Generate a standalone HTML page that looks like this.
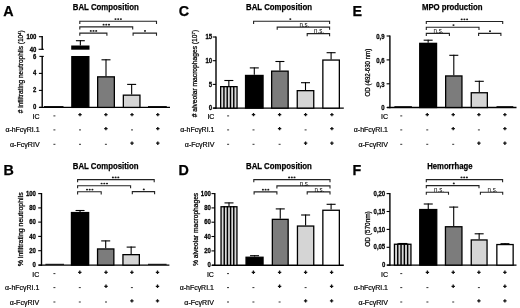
<!DOCTYPE html>
<html><head><meta charset="utf-8"><style>
html,body{margin:0;padding:0;background:#fff;}
svg{display:block;filter:grayscale(1);}
text{font-family:"Liberation Sans", sans-serif;fill:#000;}
.b{stroke:#000;stroke-width:0.25px;}
.r{stroke:#000;stroke-width:0.2px;}
.yt{stroke:#000;stroke-width:0.25px;}
</style></head><body>
<svg width="520" height="308" viewBox="0 0 520 308">
<rect width="520" height="308" fill="#fff"/>
<text x="178.80" y="16.30" font-size="14.3" font-weight="bold" text-anchor="start"  class="b">C</text>
<text x="246.00" y="10.10" font-size="8.6" font-weight="bold" text-anchor="start" textLength="66" lengthAdjust="spacingAndGlyphs"  class="b">BAL Composition</text>
<line x1="216.00" y1="36.40" x2="216.00" y2="108.80" stroke="#000" stroke-width="1.4"/>
<line x1="212.70" y1="37.00" x2="216.00" y2="37.00" stroke="#000" stroke-width="1.1"/>
<text transform="translate(212.10,39.10) scale(0.92,1)" font-size="6.5" font-weight="bold" text-anchor="end" class="b">15</text>
<line x1="212.70" y1="60.70" x2="216.00" y2="60.70" stroke="#000" stroke-width="1.1"/>
<text transform="translate(212.10,62.80) scale(0.92,1)" font-size="6.5" font-weight="bold" text-anchor="end" class="b">10</text>
<line x1="212.70" y1="84.40" x2="216.00" y2="84.40" stroke="#000" stroke-width="1.1"/>
<text transform="translate(212.10,86.50) scale(0.92,1)" font-size="6.5" font-weight="bold" text-anchor="end" class="b">5</text>
<line x1="212.70" y1="108.10" x2="216.00" y2="108.10" stroke="#000" stroke-width="1.1"/>
<text transform="translate(212.10,110.20) scale(0.92,1)" font-size="6.5" font-weight="bold" text-anchor="end" class="b">0</text>
<line x1="213.20" y1="108.10" x2="343.80" y2="108.10" stroke="#000" stroke-width="1.4"/>
<text transform="translate(197.20,73.60) rotate(-90)" font-size="6.6" class="yt" text-anchor="middle" textLength="87.5" lengthAdjust="spacingAndGlyphs"># alveolar macrophages (10<tspan font-size="4.2" dy="-2.2">7</tspan><tspan dy="2.2">)</tspan></text>
<rect x="220.65" y="86.65" width="16.40" height="21.45" fill="#d8d8d8" stroke="#000" stroke-width="1.3"/>
<line x1="223.93" y1="86.00" x2="223.93" y2="108.10" stroke="#000" stroke-width="1.45"/>
<line x1="227.21" y1="86.00" x2="227.21" y2="108.10" stroke="#000" stroke-width="1.45"/>
<line x1="230.49" y1="86.00" x2="230.49" y2="108.10" stroke="#000" stroke-width="1.45"/>
<line x1="233.77" y1="86.00" x2="233.77" y2="108.10" stroke="#000" stroke-width="1.45"/>
<line x1="228.85" y1="80.00" x2="228.85" y2="86.00" stroke="#000" stroke-width="1.1"/>
<line x1="224.35" y1="80.50" x2="233.35" y2="80.50" stroke="#000" stroke-width="1.1"/>
<rect x="245.55" y="75.45" width="17.50" height="32.65" fill="#000" stroke="#000" stroke-width="1.3"/>
<line x1="254.30" y1="67.40" x2="254.30" y2="74.80" stroke="#000" stroke-width="1.1"/>
<line x1="249.80" y1="67.90" x2="258.80" y2="67.90" stroke="#000" stroke-width="1.1"/>
<rect x="271.65" y="71.15" width="16.50" height="36.95" fill="#7c7c7c" stroke="#000" stroke-width="1.3"/>
<line x1="279.90" y1="61.00" x2="279.90" y2="70.50" stroke="#000" stroke-width="1.1"/>
<line x1="275.40" y1="61.50" x2="284.40" y2="61.50" stroke="#000" stroke-width="1.1"/>
<rect x="297.25" y="90.65" width="16.50" height="17.45" fill="#d5d5d5" stroke="#000" stroke-width="1.3"/>
<line x1="305.50" y1="82.20" x2="305.50" y2="90.00" stroke="#000" stroke-width="1.1"/>
<line x1="301.00" y1="82.70" x2="310.00" y2="82.70" stroke="#000" stroke-width="1.1"/>
<rect x="322.85" y="60.05" width="16.50" height="48.05" fill="#fff" stroke="#000" stroke-width="1.3"/>
<line x1="331.10" y1="52.20" x2="331.10" y2="59.40" stroke="#000" stroke-width="1.1"/>
<line x1="326.60" y1="52.70" x2="335.60" y2="52.70" stroke="#000" stroke-width="1.1"/>
<path d="M253.60 23.90 V21.30 H329.60 V23.90" fill="none" stroke="#222" stroke-width="1.1"/>
<ellipse cx="290.30" cy="19.10" rx="1.05" ry="0.85" fill="#1a1a1a"/>
<path d="M277.20 29.70 V27.10 H329.60 V29.70" fill="none" stroke="#222" stroke-width="1.1"/>
<text x="304.40" y="26.80" font-size="7.0" text-anchor="middle" textLength="10.0" lengthAdjust="spacingAndGlyphs" >n.s.</text>
<path d="M307.20 36.20 V33.60 H329.60 V36.20" fill="none" stroke="#222" stroke-width="1.1"/>
<text x="319.00" y="33.30" font-size="7.0" text-anchor="middle" textLength="10.0" lengthAdjust="spacingAndGlyphs" >n.s.</text>
<text x="214.40" y="118.90" font-size="7" text-anchor="end"  class="r">IC</text>
<rect x="227.10" y="115.40" width="2" height="1" fill="#333"/>
<path d="M251.80 114.60 H255.20 M253.50 112.90 V116.30" stroke="#111" stroke-width="1.3" fill="none"/>
<path d="M277.90 114.60 H281.30 M279.60 112.90 V116.30" stroke="#111" stroke-width="1.3" fill="none"/>
<path d="M303.90 114.60 H307.30 M305.60 112.90 V116.30" stroke="#111" stroke-width="1.3" fill="none"/>
<path d="M330.20 114.60 H333.60 M331.90 112.90 V116.30" stroke="#111" stroke-width="1.3" fill="none"/>
<text x="214.40" y="132.30" font-size="7" text-anchor="end" textLength="34.2" lengthAdjust="spacingAndGlyphs"  class="r">α-hFcγRI.1</text>
<rect x="227.10" y="129.40" width="2" height="1" fill="#333"/>
<rect x="252.50" y="129.40" width="2" height="1" fill="#333"/>
<path d="M277.90 128.60 H281.30 M279.60 126.90 V130.30" stroke="#111" stroke-width="1.3" fill="none"/>
<rect x="304.60" y="129.40" width="2" height="1" fill="#333"/>
<path d="M330.20 128.60 H333.60 M331.90 126.90 V130.30" stroke="#111" stroke-width="1.3" fill="none"/>
<text x="214.40" y="146.90" font-size="7" text-anchor="end" textLength="29.6" lengthAdjust="spacingAndGlyphs"  class="r">α-FcγRIV</text>
<rect x="227.10" y="143.80" width="2" height="1" fill="#333"/>
<rect x="252.50" y="143.80" width="2" height="1" fill="#333"/>
<rect x="278.60" y="143.80" width="2" height="1" fill="#333"/>
<path d="M303.90 143.20 H307.30 M305.60 141.50 V144.90" stroke="#111" stroke-width="1.3" fill="none"/>
<path d="M330.20 143.20 H333.60 M331.90 141.50 V144.90" stroke="#111" stroke-width="1.3" fill="none"/>
<text x="352.60" y="16.30" font-size="14.3" font-weight="bold" text-anchor="start"  class="b">E</text>
<text x="421.90" y="10.10" font-size="8.6" font-weight="bold" text-anchor="start" textLength="60.6" lengthAdjust="spacingAndGlyphs"  class="b">MPO production</text>
<line x1="389.90" y1="35.60" x2="389.90" y2="108.20" stroke="#000" stroke-width="1.4"/>
<line x1="386.60" y1="36.00" x2="389.90" y2="36.00" stroke="#000" stroke-width="1.1"/>
<text transform="translate(384.50,38.70) scale(0.92,1)" font-size="6.5" font-weight="bold" text-anchor="end" class="b">0,9</text>
<line x1="386.60" y1="59.90" x2="389.90" y2="59.90" stroke="#000" stroke-width="1.1"/>
<text transform="translate(384.50,62.60) scale(0.92,1)" font-size="6.5" font-weight="bold" text-anchor="end" class="b">0,6</text>
<line x1="386.60" y1="83.80" x2="389.90" y2="83.80" stroke="#000" stroke-width="1.1"/>
<text transform="translate(384.50,86.50) scale(0.92,1)" font-size="6.5" font-weight="bold" text-anchor="end" class="b">0,3</text>
<line x1="386.60" y1="107.50" x2="389.90" y2="107.50" stroke="#000" stroke-width="1.1"/>
<text transform="translate(384.50,110.20) scale(0.92,1)" font-size="6.5" font-weight="bold" text-anchor="end" class="b">0</text>
<line x1="387.10" y1="107.50" x2="516.50" y2="107.50" stroke="#000" stroke-width="1.4"/>
<text transform="translate(370.20,72.60) rotate(-90)" font-size="6.4" class="yt" text-anchor="middle" textLength="47.6" lengthAdjust="spacingAndGlyphs">OD (492-630 nm)</text>
<line x1="394.40" y1="106.70" x2="411.90" y2="106.70" stroke="#000" stroke-width="1.0"/>
<rect x="419.75" y="43.35" width="16.80" height="64.15" fill="#000" stroke="#000" stroke-width="1.3"/>
<line x1="428.15" y1="39.70" x2="428.15" y2="42.70" stroke="#000" stroke-width="1.1"/>
<line x1="423.65" y1="40.20" x2="432.65" y2="40.20" stroke="#000" stroke-width="1.1"/>
<rect x="445.65" y="75.95" width="16.30" height="31.55" fill="#7c7c7c" stroke="#000" stroke-width="1.3"/>
<line x1="453.80" y1="54.80" x2="453.80" y2="75.30" stroke="#000" stroke-width="1.1"/>
<line x1="449.30" y1="55.30" x2="458.30" y2="55.30" stroke="#000" stroke-width="1.1"/>
<rect x="471.25" y="92.75" width="16.10" height="14.75" fill="#d5d5d5" stroke="#000" stroke-width="1.3"/>
<line x1="479.30" y1="80.80" x2="479.30" y2="92.10" stroke="#000" stroke-width="1.1"/>
<line x1="474.80" y1="81.30" x2="483.80" y2="81.30" stroke="#000" stroke-width="1.1"/>
<line x1="496.50" y1="106.70" x2="513.30" y2="106.70" stroke="#000" stroke-width="1.0"/>
<path d="M426.30 24.10 V21.50 H502.70 V24.10" fill="none" stroke="#222" stroke-width="1.1"/>
<ellipse cx="461.70" cy="19.30" rx="1.05" ry="0.85" fill="#1a1a1a"/>
<ellipse cx="464.40" cy="19.30" rx="1.05" ry="0.85" fill="#1a1a1a"/>
<ellipse cx="467.10" cy="19.30" rx="1.05" ry="0.85" fill="#1a1a1a"/>
<path d="M426.30 29.90 V27.30 H479.00 V29.90" fill="none" stroke="#222" stroke-width="1.1"/>
<ellipse cx="453.50" cy="25.10" rx="1.05" ry="0.85" fill="#1a1a1a"/>
<path d="M426.30 36.00 V33.40 H449.40 V36.00" fill="none" stroke="#222" stroke-width="1.1"/>
<text x="438.60" y="33.10" font-size="7.0" text-anchor="middle" textLength="10.0" lengthAdjust="spacingAndGlyphs" >n.s.</text>
<path d="M478.60 36.00 V33.40 H500.90 V36.00" fill="none" stroke="#222" stroke-width="1.1"/>
<ellipse cx="490.00" cy="31.20" rx="1.05" ry="0.85" fill="#1a1a1a"/>
<text x="388.00" y="118.90" font-size="7" text-anchor="end"  class="r">IC</text>
<rect x="400.25" y="115.40" width="2" height="1" fill="#333"/>
<path d="M425.55 114.60 H428.95 M427.25 112.90 V116.30" stroke="#111" stroke-width="1.3" fill="none"/>
<path d="M451.50 114.60 H454.90 M453.20 112.90 V116.30" stroke="#111" stroke-width="1.3" fill="none"/>
<path d="M477.20 114.60 H480.60 M478.90 112.90 V116.30" stroke="#111" stroke-width="1.3" fill="none"/>
<path d="M503.20 114.60 H506.60 M504.90 112.90 V116.30" stroke="#111" stroke-width="1.3" fill="none"/>
<text x="388.00" y="132.30" font-size="7" text-anchor="end" textLength="34.2" lengthAdjust="spacingAndGlyphs"  class="r">α-hFcγRI.1</text>
<rect x="400.25" y="129.40" width="2" height="1" fill="#333"/>
<rect x="426.25" y="129.40" width="2" height="1" fill="#333"/>
<path d="M451.50 128.60 H454.90 M453.20 126.90 V130.30" stroke="#111" stroke-width="1.3" fill="none"/>
<rect x="477.90" y="129.40" width="2" height="1" fill="#333"/>
<path d="M503.20 128.60 H506.60 M504.90 126.90 V130.30" stroke="#111" stroke-width="1.3" fill="none"/>
<text x="388.00" y="146.90" font-size="7" text-anchor="end" textLength="29.6" lengthAdjust="spacingAndGlyphs"  class="r">α-FcγRIV</text>
<rect x="400.25" y="143.80" width="2" height="1" fill="#333"/>
<rect x="426.25" y="143.80" width="2" height="1" fill="#333"/>
<rect x="452.20" y="143.80" width="2" height="1" fill="#333"/>
<path d="M477.20 143.20 H480.60 M478.90 141.50 V144.90" stroke="#111" stroke-width="1.3" fill="none"/>
<path d="M503.20 143.20 H506.60 M504.90 141.50 V144.90" stroke="#111" stroke-width="1.3" fill="none"/>
<text x="3.50" y="175.30" font-size="14.3" font-weight="bold" text-anchor="start"  class="b">B</text>
<text x="72.75" y="169.10" font-size="8.6" font-weight="bold" text-anchor="start" textLength="65.8" lengthAdjust="spacingAndGlyphs"  class="b">BAL Composition</text>
<line x1="41.50" y1="193.00" x2="41.50" y2="265.80" stroke="#000" stroke-width="1.4"/>
<line x1="38.20" y1="193.60" x2="41.50" y2="193.60" stroke="#000" stroke-width="1.1"/>
<text transform="translate(35.90,195.70) scale(0.92,1)" font-size="6.5" font-weight="bold" text-anchor="end" class="b">100</text>
<line x1="38.20" y1="207.90" x2="41.50" y2="207.90" stroke="#000" stroke-width="1.1"/>
<text transform="translate(35.90,210.00) scale(0.92,1)" font-size="6.5" font-weight="bold" text-anchor="end" class="b">80</text>
<line x1="38.20" y1="222.10" x2="41.50" y2="222.10" stroke="#000" stroke-width="1.1"/>
<text transform="translate(35.90,224.20) scale(0.92,1)" font-size="6.5" font-weight="bold" text-anchor="end" class="b">60</text>
<line x1="38.20" y1="236.40" x2="41.50" y2="236.40" stroke="#000" stroke-width="1.1"/>
<text transform="translate(35.90,238.50) scale(0.92,1)" font-size="6.5" font-weight="bold" text-anchor="end" class="b">40</text>
<line x1="38.20" y1="250.70" x2="41.50" y2="250.70" stroke="#000" stroke-width="1.1"/>
<text transform="translate(35.90,252.80) scale(0.92,1)" font-size="6.5" font-weight="bold" text-anchor="end" class="b">20</text>
<line x1="38.20" y1="265.10" x2="41.50" y2="265.10" stroke="#000" stroke-width="1.1"/>
<text transform="translate(35.90,267.20) scale(0.92,1)" font-size="6.5" font-weight="bold" text-anchor="end" class="b">0</text>
<line x1="38.70" y1="265.10" x2="169.40" y2="265.10" stroke="#000" stroke-width="1.4"/>
<text transform="translate(22.80,229.30) rotate(-90)" font-size="6.6" class="yt" text-anchor="middle" textLength="74" lengthAdjust="spacingAndGlyphs">% infiltrating neutrophils</text>
<line x1="45.40" y1="264.30" x2="64.00" y2="264.30" stroke="#000" stroke-width="1.0"/>
<rect x="71.45" y="212.55" width="17.20" height="52.55" fill="#000" stroke="#000" stroke-width="1.3"/>
<line x1="80.05" y1="210.00" x2="80.05" y2="211.90" stroke="#000" stroke-width="1.1"/>
<line x1="75.55" y1="210.50" x2="84.55" y2="210.50" stroke="#000" stroke-width="1.1"/>
<rect x="97.55" y="248.95" width="16.30" height="16.15" fill="#7c7c7c" stroke="#000" stroke-width="1.3"/>
<line x1="105.70" y1="240.40" x2="105.70" y2="248.30" stroke="#000" stroke-width="1.1"/>
<line x1="101.20" y1="240.90" x2="110.20" y2="240.90" stroke="#000" stroke-width="1.1"/>
<rect x="122.95" y="254.65" width="16.40" height="10.45" fill="#d5d5d5" stroke="#000" stroke-width="1.3"/>
<line x1="131.15" y1="246.60" x2="131.15" y2="254.00" stroke="#000" stroke-width="1.1"/>
<line x1="126.65" y1="247.10" x2="135.65" y2="247.10" stroke="#000" stroke-width="1.1"/>
<line x1="148.00" y1="264.30" x2="166.60" y2="264.30" stroke="#000" stroke-width="1.0"/>
<path d="M77.60 182.20 V179.60 H154.20 V182.20" fill="none" stroke="#222" stroke-width="1.1"/>
<ellipse cx="112.90" cy="177.40" rx="1.05" ry="0.85" fill="#1a1a1a"/>
<ellipse cx="115.60" cy="177.40" rx="1.05" ry="0.85" fill="#1a1a1a"/>
<ellipse cx="118.30" cy="177.40" rx="1.05" ry="0.85" fill="#1a1a1a"/>
<path d="M77.60 188.30 V185.70 H130.60 V188.30" fill="none" stroke="#222" stroke-width="1.1"/>
<ellipse cx="101.60" cy="183.50" rx="1.05" ry="0.85" fill="#1a1a1a"/>
<ellipse cx="104.30" cy="183.50" rx="1.05" ry="0.85" fill="#1a1a1a"/>
<ellipse cx="107.00" cy="183.50" rx="1.05" ry="0.85" fill="#1a1a1a"/>
<path d="M77.60 194.40 V191.80 H101.20 V194.40" fill="none" stroke="#222" stroke-width="1.1"/>
<ellipse cx="87.00" cy="189.60" rx="1.05" ry="0.85" fill="#1a1a1a"/>
<ellipse cx="89.70" cy="189.60" rx="1.05" ry="0.85" fill="#1a1a1a"/>
<ellipse cx="92.40" cy="189.60" rx="1.05" ry="0.85" fill="#1a1a1a"/>
<path d="M132.30 194.20 V191.60 H154.60 V194.20" fill="none" stroke="#222" stroke-width="1.1"/>
<ellipse cx="143.80" cy="189.40" rx="1.05" ry="0.85" fill="#1a1a1a"/>
<text x="39.30" y="276.60" font-size="7" text-anchor="end"  class="r">IC</text>
<rect x="53.40" y="273.10" width="2" height="1" fill="#333"/>
<path d="M78.10 272.30 H81.50 M79.80 270.60 V274.00" stroke="#111" stroke-width="1.3" fill="none"/>
<path d="M104.30 272.30 H107.70 M106.00 270.60 V274.00" stroke="#111" stroke-width="1.3" fill="none"/>
<path d="M130.20 272.30 H133.60 M131.90 270.60 V274.00" stroke="#111" stroke-width="1.3" fill="none"/>
<path d="M155.80 272.30 H159.20 M157.50 270.60 V274.00" stroke="#111" stroke-width="1.3" fill="none"/>
<text x="39.30" y="290.00" font-size="7" text-anchor="end" textLength="34.2" lengthAdjust="spacingAndGlyphs"  class="r">α-hFcγRI.1</text>
<rect x="53.40" y="287.10" width="2" height="1" fill="#333"/>
<rect x="78.80" y="287.10" width="2" height="1" fill="#333"/>
<path d="M104.30 286.30 H107.70 M106.00 284.60 V288.00" stroke="#111" stroke-width="1.3" fill="none"/>
<rect x="130.90" y="287.10" width="2" height="1" fill="#333"/>
<path d="M155.80 286.30 H159.20 M157.50 284.60 V288.00" stroke="#111" stroke-width="1.3" fill="none"/>
<text x="39.30" y="304.60" font-size="7" text-anchor="end" textLength="29.6" lengthAdjust="spacingAndGlyphs"  class="r">α-FcγRIV</text>
<rect x="53.40" y="301.50" width="2" height="1" fill="#333"/>
<rect x="78.80" y="301.50" width="2" height="1" fill="#333"/>
<rect x="105.00" y="301.50" width="2" height="1" fill="#333"/>
<path d="M130.20 300.90 H133.60 M131.90 299.20 V302.60" stroke="#111" stroke-width="1.3" fill="none"/>
<path d="M155.80 300.90 H159.20 M157.50 299.20 V302.60" stroke="#111" stroke-width="1.3" fill="none"/>
<text x="178.60" y="175.30" font-size="14.3" font-weight="bold" text-anchor="start"  class="b">D</text>
<text x="246.00" y="169.10" font-size="8.6" font-weight="bold" text-anchor="start" textLength="65.9" lengthAdjust="spacingAndGlyphs"  class="b">BAL Composition</text>
<line x1="214.80" y1="193.00" x2="214.80" y2="266.00" stroke="#000" stroke-width="1.4"/>
<line x1="211.50" y1="193.60" x2="214.80" y2="193.60" stroke="#000" stroke-width="1.1"/>
<text transform="translate(210.80,195.70) scale(0.92,1)" font-size="6.5" font-weight="bold" text-anchor="end" class="b">100</text>
<line x1="211.50" y1="207.90" x2="214.80" y2="207.90" stroke="#000" stroke-width="1.1"/>
<text transform="translate(210.80,210.00) scale(0.92,1)" font-size="6.5" font-weight="bold" text-anchor="end" class="b">80</text>
<line x1="211.50" y1="222.20" x2="214.80" y2="222.20" stroke="#000" stroke-width="1.1"/>
<text transform="translate(210.80,224.30) scale(0.92,1)" font-size="6.5" font-weight="bold" text-anchor="end" class="b">60</text>
<line x1="211.50" y1="236.50" x2="214.80" y2="236.50" stroke="#000" stroke-width="1.1"/>
<text transform="translate(210.80,238.60) scale(0.92,1)" font-size="6.5" font-weight="bold" text-anchor="end" class="b">40</text>
<line x1="211.50" y1="250.90" x2="214.80" y2="250.90" stroke="#000" stroke-width="1.1"/>
<text transform="translate(210.80,253.00) scale(0.92,1)" font-size="6.5" font-weight="bold" text-anchor="end" class="b">20</text>
<line x1="211.50" y1="265.30" x2="214.80" y2="265.30" stroke="#000" stroke-width="1.1"/>
<text transform="translate(210.80,267.40) scale(0.92,1)" font-size="6.5" font-weight="bold" text-anchor="end" class="b">0</text>
<line x1="212.00" y1="265.30" x2="343.80" y2="265.30" stroke="#000" stroke-width="1.4"/>
<text transform="translate(198.20,229.40) rotate(-90)" font-size="6.6" class="yt" text-anchor="middle" textLength="73.2" lengthAdjust="spacingAndGlyphs">% alveolar macrophages</text>
<rect x="221.05" y="206.75" width="15.90" height="58.55" fill="#d8d8d8" stroke="#000" stroke-width="1.3"/>
<line x1="224.23" y1="206.10" x2="224.23" y2="265.30" stroke="#000" stroke-width="1.45"/>
<line x1="227.41" y1="206.10" x2="227.41" y2="265.30" stroke="#000" stroke-width="1.45"/>
<line x1="230.59" y1="206.10" x2="230.59" y2="265.30" stroke="#000" stroke-width="1.45"/>
<line x1="233.77" y1="206.10" x2="233.77" y2="265.30" stroke="#000" stroke-width="1.45"/>
<line x1="229.00" y1="202.40" x2="229.00" y2="206.10" stroke="#000" stroke-width="1.1"/>
<line x1="224.50" y1="202.90" x2="233.50" y2="202.90" stroke="#000" stroke-width="1.1"/>
<rect x="246.05" y="257.25" width="17.00" height="8.05" fill="#000" stroke="#000" stroke-width="1.3"/>
<line x1="254.55" y1="255.20" x2="254.55" y2="256.60" stroke="#000" stroke-width="1.1"/>
<line x1="250.05" y1="255.70" x2="259.05" y2="255.70" stroke="#000" stroke-width="1.1"/>
<rect x="272.35" y="219.35" width="15.80" height="45.95" fill="#7c7c7c" stroke="#000" stroke-width="1.3"/>
<line x1="280.25" y1="208.40" x2="280.25" y2="218.70" stroke="#000" stroke-width="1.1"/>
<line x1="275.75" y1="208.90" x2="284.75" y2="208.90" stroke="#000" stroke-width="1.1"/>
<rect x="297.45" y="226.05" width="16.30" height="39.25" fill="#d5d5d5" stroke="#000" stroke-width="1.3"/>
<line x1="305.60" y1="214.50" x2="305.60" y2="225.40" stroke="#000" stroke-width="1.1"/>
<line x1="301.10" y1="215.00" x2="310.10" y2="215.00" stroke="#000" stroke-width="1.1"/>
<rect x="322.85" y="210.25" width="16.50" height="55.05" fill="#fff" stroke="#000" stroke-width="1.3"/>
<line x1="331.10" y1="203.80" x2="331.10" y2="209.60" stroke="#000" stroke-width="1.1"/>
<line x1="326.60" y1="204.30" x2="335.60" y2="204.30" stroke="#000" stroke-width="1.1"/>
<path d="M253.80 182.20 V179.60 H330.00 V182.20" fill="none" stroke="#222" stroke-width="1.1"/>
<ellipse cx="289.10" cy="177.40" rx="1.05" ry="0.85" fill="#1a1a1a"/>
<ellipse cx="291.80" cy="177.40" rx="1.05" ry="0.85" fill="#1a1a1a"/>
<ellipse cx="294.50" cy="177.40" rx="1.05" ry="0.85" fill="#1a1a1a"/>
<path d="M276.90 188.50 V185.90 H330.00 V188.50" fill="none" stroke="#222" stroke-width="1.1"/>
<text x="304.70" y="185.60" font-size="7.0" text-anchor="middle" textLength="10.0" lengthAdjust="spacingAndGlyphs" >n.s.</text>
<path d="M254.10 194.50 V191.90 H276.90 V194.50" fill="none" stroke="#222" stroke-width="1.1"/>
<ellipse cx="262.90" cy="189.70" rx="1.05" ry="0.85" fill="#1a1a1a"/>
<ellipse cx="265.60" cy="189.70" rx="1.05" ry="0.85" fill="#1a1a1a"/>
<ellipse cx="268.30" cy="189.70" rx="1.05" ry="0.85" fill="#1a1a1a"/>
<path d="M307.20 194.50 V191.90 H330.00 V194.50" fill="none" stroke="#222" stroke-width="1.1"/>
<text x="319.40" y="191.60" font-size="7.0" text-anchor="middle" textLength="10.0" lengthAdjust="spacingAndGlyphs" >n.s.</text>
<text x="213.90" y="276.60" font-size="7" text-anchor="end"  class="r">IC</text>
<rect x="227.00" y="273.10" width="2" height="1" fill="#333"/>
<path d="M251.70 272.30 H255.10 M253.40 270.60 V274.00" stroke="#111" stroke-width="1.3" fill="none"/>
<path d="M277.90 272.30 H281.30 M279.60 270.60 V274.00" stroke="#111" stroke-width="1.3" fill="none"/>
<path d="M303.90 272.30 H307.30 M305.60 270.60 V274.00" stroke="#111" stroke-width="1.3" fill="none"/>
<path d="M329.90 272.30 H333.30 M331.60 270.60 V274.00" stroke="#111" stroke-width="1.3" fill="none"/>
<text x="213.90" y="290.00" font-size="7" text-anchor="end" textLength="34.2" lengthAdjust="spacingAndGlyphs"  class="r">α-hFcγRI.1</text>
<rect x="227.00" y="287.10" width="2" height="1" fill="#333"/>
<rect x="252.40" y="287.10" width="2" height="1" fill="#333"/>
<path d="M277.90 286.30 H281.30 M279.60 284.60 V288.00" stroke="#111" stroke-width="1.3" fill="none"/>
<rect x="304.60" y="287.10" width="2" height="1" fill="#333"/>
<path d="M329.90 286.30 H333.30 M331.60 284.60 V288.00" stroke="#111" stroke-width="1.3" fill="none"/>
<text x="213.90" y="304.60" font-size="7" text-anchor="end" textLength="29.6" lengthAdjust="spacingAndGlyphs"  class="r">α-FcγRIV</text>
<rect x="227.00" y="301.50" width="2" height="1" fill="#333"/>
<rect x="252.40" y="301.50" width="2" height="1" fill="#333"/>
<rect x="278.60" y="301.50" width="2" height="1" fill="#333"/>
<path d="M303.90 300.90 H307.30 M305.60 299.20 V302.60" stroke="#111" stroke-width="1.3" fill="none"/>
<path d="M329.90 300.90 H333.30 M331.60 299.20 V302.60" stroke="#111" stroke-width="1.3" fill="none"/>
<text x="352.60" y="175.30" font-size="14.3" font-weight="bold" text-anchor="start"  class="b">F</text>
<text x="427.25" y="169.10" font-size="8.6" font-weight="bold" text-anchor="start" textLength="45.3" lengthAdjust="spacingAndGlyphs"  class="b">Hemorrhage</text>
<line x1="389.90" y1="193.00" x2="389.90" y2="265.80" stroke="#000" stroke-width="1.4"/>
<line x1="386.60" y1="193.60" x2="389.90" y2="193.60" stroke="#000" stroke-width="1.1"/>
<text transform="translate(385.20,195.70) scale(0.92,1)" font-size="6.5" font-weight="bold" text-anchor="end" class="b">0,20</text>
<line x1="386.60" y1="211.50" x2="389.90" y2="211.50" stroke="#000" stroke-width="1.1"/>
<text transform="translate(385.20,213.60) scale(0.92,1)" font-size="6.5" font-weight="bold" text-anchor="end" class="b">0,15</text>
<line x1="386.60" y1="229.40" x2="389.90" y2="229.40" stroke="#000" stroke-width="1.1"/>
<text transform="translate(385.20,231.50) scale(0.92,1)" font-size="6.5" font-weight="bold" text-anchor="end" class="b">0,10</text>
<line x1="386.60" y1="247.30" x2="389.90" y2="247.30" stroke="#000" stroke-width="1.1"/>
<text transform="translate(385.20,249.40) scale(0.92,1)" font-size="6.5" font-weight="bold" text-anchor="end" class="b">0,05</text>
<line x1="386.60" y1="265.10" x2="389.90" y2="265.10" stroke="#000" stroke-width="1.1"/>
<text transform="translate(385.20,267.20) scale(0.92,1)" font-size="6.5" font-weight="bold" text-anchor="end" class="b">0</text>
<line x1="387.10" y1="265.10" x2="516.50" y2="265.10" stroke="#000" stroke-width="1.4"/>
<text transform="translate(370.30,229.00) rotate(-90)" font-size="6.4" class="yt" text-anchor="middle" textLength="35.5" lengthAdjust="spacingAndGlyphs">OD (570nm)</text>
<rect x="394.45" y="244.25" width="16.50" height="20.85" fill="#d8d8d8" stroke="#000" stroke-width="1.3"/>
<line x1="397.75" y1="243.60" x2="397.75" y2="265.10" stroke="#000" stroke-width="1.45"/>
<line x1="401.05" y1="243.60" x2="401.05" y2="265.10" stroke="#000" stroke-width="1.45"/>
<line x1="404.35" y1="243.60" x2="404.35" y2="265.10" stroke="#000" stroke-width="1.45"/>
<line x1="407.65" y1="243.60" x2="407.65" y2="265.10" stroke="#000" stroke-width="1.45"/>
<line x1="402.70" y1="243.00" x2="402.70" y2="243.60" stroke="#000" stroke-width="1.1"/>
<line x1="398.20" y1="243.50" x2="407.20" y2="243.50" stroke="#000" stroke-width="1.1"/>
<rect x="419.75" y="209.55" width="17.00" height="55.55" fill="#000" stroke="#000" stroke-width="1.3"/>
<line x1="428.25" y1="203.50" x2="428.25" y2="208.90" stroke="#000" stroke-width="1.1"/>
<line x1="423.75" y1="204.00" x2="432.75" y2="204.00" stroke="#000" stroke-width="1.1"/>
<rect x="445.45" y="226.75" width="16.50" height="38.35" fill="#7c7c7c" stroke="#000" stroke-width="1.3"/>
<line x1="453.70" y1="206.60" x2="453.70" y2="226.10" stroke="#000" stroke-width="1.1"/>
<line x1="449.20" y1="207.10" x2="458.20" y2="207.10" stroke="#000" stroke-width="1.1"/>
<rect x="471.25" y="239.95" width="15.80" height="25.15" fill="#d5d5d5" stroke="#000" stroke-width="1.3"/>
<line x1="479.15" y1="233.30" x2="479.15" y2="239.30" stroke="#000" stroke-width="1.1"/>
<line x1="474.65" y1="233.80" x2="483.65" y2="233.80" stroke="#000" stroke-width="1.1"/>
<rect x="496.85" y="244.55" width="16.30" height="20.55" fill="#fff" stroke="#000" stroke-width="1.3"/>
<line x1="505.00" y1="243.20" x2="505.00" y2="243.90" stroke="#000" stroke-width="1.1"/>
<line x1="500.50" y1="243.70" x2="509.50" y2="243.70" stroke="#000" stroke-width="1.1"/>
<path d="M426.30 182.20 V179.60 H502.60 V182.20" fill="none" stroke="#222" stroke-width="1.1"/>
<ellipse cx="461.50" cy="177.40" rx="1.05" ry="0.85" fill="#1a1a1a"/>
<ellipse cx="464.20" cy="177.40" rx="1.05" ry="0.85" fill="#1a1a1a"/>
<ellipse cx="466.90" cy="177.40" rx="1.05" ry="0.85" fill="#1a1a1a"/>
<path d="M426.30 188.20 V185.60 H479.00 V188.20" fill="none" stroke="#222" stroke-width="1.1"/>
<ellipse cx="453.80" cy="183.40" rx="1.05" ry="0.85" fill="#1a1a1a"/>
<path d="M426.30 194.80 V192.20 H448.50 V194.80" fill="none" stroke="#222" stroke-width="1.1"/>
<text x="439.00" y="191.90" font-size="7.0" text-anchor="middle" textLength="10.0" lengthAdjust="spacingAndGlyphs" >n.s.</text>
<path d="M480.40 194.80 V192.20 H502.70 V194.80" fill="none" stroke="#222" stroke-width="1.1"/>
<text x="492.60" y="191.90" font-size="7.0" text-anchor="middle" textLength="10.0" lengthAdjust="spacingAndGlyphs" >n.s.</text>
<text x="388.00" y="276.60" font-size="7" text-anchor="end"  class="r">IC</text>
<rect x="400.25" y="273.10" width="2" height="1" fill="#333"/>
<path d="M425.70 272.30 H429.10 M427.40 270.60 V274.00" stroke="#111" stroke-width="1.3" fill="none"/>
<path d="M451.50 272.30 H454.90 M453.20 270.60 V274.00" stroke="#111" stroke-width="1.3" fill="none"/>
<path d="M477.20 272.30 H480.60 M478.90 270.60 V274.00" stroke="#111" stroke-width="1.3" fill="none"/>
<path d="M503.20 272.30 H506.60 M504.90 270.60 V274.00" stroke="#111" stroke-width="1.3" fill="none"/>
<text x="388.00" y="290.00" font-size="7" text-anchor="end" textLength="34.2" lengthAdjust="spacingAndGlyphs"  class="r">α-hFcγRI.1</text>
<rect x="400.25" y="287.10" width="2" height="1" fill="#333"/>
<rect x="426.40" y="287.10" width="2" height="1" fill="#333"/>
<path d="M451.50 286.30 H454.90 M453.20 284.60 V288.00" stroke="#111" stroke-width="1.3" fill="none"/>
<rect x="477.90" y="287.10" width="2" height="1" fill="#333"/>
<path d="M503.20 286.30 H506.60 M504.90 284.60 V288.00" stroke="#111" stroke-width="1.3" fill="none"/>
<text x="388.00" y="304.60" font-size="7" text-anchor="end" textLength="29.6" lengthAdjust="spacingAndGlyphs"  class="r">α-FcγRIV</text>
<rect x="400.25" y="301.50" width="2" height="1" fill="#333"/>
<rect x="426.40" y="301.50" width="2" height="1" fill="#333"/>
<rect x="452.20" y="301.50" width="2" height="1" fill="#333"/>
<path d="M477.20 300.90 H480.60 M478.90 299.20 V302.60" stroke="#111" stroke-width="1.3" fill="none"/>
<path d="M503.20 300.90 H506.60 M504.90 299.20 V302.60" stroke="#111" stroke-width="1.3" fill="none"/>
<text x="3.20" y="16.30" font-size="14.3" font-weight="bold" text-anchor="start"  class="b">A</text>
<text x="72.75" y="10.10" font-size="8.6" font-weight="bold" text-anchor="start" textLength="66" lengthAdjust="spacingAndGlyphs"  class="b">BAL Composition</text>
<line x1="42.20" y1="56.00" x2="42.20" y2="108.10" stroke="#000" stroke-width="1.4"/>
<line x1="38.90" y1="73.40" x2="42.20" y2="73.40" stroke="#000" stroke-width="1.1"/>
<text transform="translate(36.40,74.90) scale(0.92,1)" font-size="6.5" font-weight="bold" text-anchor="end" class="b">4</text>
<line x1="38.90" y1="90.40" x2="42.20" y2="90.40" stroke="#000" stroke-width="1.1"/>
<text transform="translate(36.40,91.90) scale(0.92,1)" font-size="6.5" font-weight="bold" text-anchor="end" class="b">2</text>
<line x1="38.90" y1="107.40" x2="42.20" y2="107.40" stroke="#000" stroke-width="1.1"/>
<text transform="translate(36.40,108.90) scale(0.92,1)" font-size="6.5" font-weight="bold" text-anchor="end" class="b">0</text>
<line x1="39.40" y1="56.40" x2="43.80" y2="56.40" stroke="#000" stroke-width="1.1"/>
<text transform="translate(36.40,58.50) scale(0.92,1)" font-size="6.5" font-weight="bold" text-anchor="end" class="b">6</text>
<line x1="42.20" y1="36.10" x2="42.20" y2="49.70" stroke="#000" stroke-width="1.4"/>
<line x1="38.90" y1="36.70" x2="42.20" y2="36.70" stroke="#000" stroke-width="1.1"/>
<line x1="38.60" y1="49.30" x2="43.80" y2="49.30" stroke="#000" stroke-width="1.1"/>
<text transform="translate(36.40,39.10) scale(0.92,1)" font-size="6.5" font-weight="bold" text-anchor="end" class="b">100</text>
<text transform="translate(36.40,51.50) scale(0.92,1)" font-size="6.5" font-weight="bold" text-anchor="end" class="b">40</text>
<line x1="39.40" y1="107.40" x2="170.00" y2="107.40" stroke="#000" stroke-width="1.4"/>
<text transform="translate(22.90,71.80) rotate(-90)" font-size="6.8" class="yt" text-anchor="middle" textLength="83" lengthAdjust="spacingAndGlyphs"># infiltrating neutrophils (10<tspan font-size="4.2" dy="-2.2">4</tspan><tspan dy="2.2">)</tspan></text>
<line x1="44.00" y1="106.60" x2="63.50" y2="106.60" stroke="#000" stroke-width="1.0"/>
<rect x="71.85" y="56.65" width="17.00" height="50.75" fill="#000" stroke="#000" stroke-width="1.3"/>
<rect x="97.65" y="76.85" width="16.70" height="30.55" fill="#7c7c7c" stroke="#000" stroke-width="1.3"/>
<line x1="106.00" y1="59.30" x2="106.00" y2="76.20" stroke="#000" stroke-width="1.1"/>
<line x1="101.50" y1="59.80" x2="110.50" y2="59.80" stroke="#000" stroke-width="1.1"/>
<rect x="123.35" y="95.15" width="16.60" height="12.25" fill="#d5d5d5" stroke="#000" stroke-width="1.3"/>
<line x1="131.65" y1="83.90" x2="131.65" y2="94.50" stroke="#000" stroke-width="1.1"/>
<line x1="127.15" y1="84.40" x2="136.15" y2="84.40" stroke="#000" stroke-width="1.1"/>
<line x1="148.00" y1="106.60" x2="166.80" y2="106.60" stroke="#000" stroke-width="1.0"/>
<rect x="71.2" y="45.5" width="18.3" height="4.2" fill="#000"/>
<line x1="80.35" y1="40.20" x2="80.35" y2="45.50" stroke="#000" stroke-width="1.1"/>
<line x1="75.90" y1="40.70" x2="84.80" y2="40.70" stroke="#000" stroke-width="1.1"/>
<path d="M79.80 23.90 V21.30 H156.50 V23.90" fill="none" stroke="#222" stroke-width="1.1"/>
<ellipse cx="115.50" cy="19.10" rx="1.05" ry="0.85" fill="#1a1a1a"/>
<ellipse cx="118.20" cy="19.10" rx="1.05" ry="0.85" fill="#1a1a1a"/>
<ellipse cx="120.90" cy="19.10" rx="1.05" ry="0.85" fill="#1a1a1a"/>
<path d="M79.80 29.50 V26.90 H132.70 V29.50" fill="none" stroke="#222" stroke-width="1.1"/>
<ellipse cx="103.60" cy="24.70" rx="1.05" ry="0.85" fill="#1a1a1a"/>
<ellipse cx="106.30" cy="24.70" rx="1.05" ry="0.85" fill="#1a1a1a"/>
<ellipse cx="109.00" cy="24.70" rx="1.05" ry="0.85" fill="#1a1a1a"/>
<path d="M79.80 35.70 V33.10 H106.90 V35.70" fill="none" stroke="#222" stroke-width="1.1"/>
<ellipse cx="90.80" cy="30.90" rx="1.05" ry="0.85" fill="#1a1a1a"/>
<ellipse cx="93.50" cy="30.90" rx="1.05" ry="0.85" fill="#1a1a1a"/>
<ellipse cx="96.20" cy="30.90" rx="1.05" ry="0.85" fill="#1a1a1a"/>
<path d="M133.10 35.70 V33.10 H156.50 V35.70" fill="none" stroke="#222" stroke-width="1.1"/>
<ellipse cx="145.00" cy="30.90" rx="1.05" ry="0.85" fill="#1a1a1a"/>
<text x="39.60" y="118.90" font-size="7" text-anchor="end"  class="r">IC</text>
<rect x="53.40" y="115.40" width="2" height="1" fill="#333"/>
<path d="M78.30 114.60 H81.70 M80.00 112.90 V116.30" stroke="#111" stroke-width="1.3" fill="none"/>
<path d="M104.20 114.60 H107.60 M105.90 112.90 V116.30" stroke="#111" stroke-width="1.3" fill="none"/>
<path d="M130.30 114.60 H133.70 M132.00 112.90 V116.30" stroke="#111" stroke-width="1.3" fill="none"/>
<path d="M156.10 114.60 H159.50 M157.80 112.90 V116.30" stroke="#111" stroke-width="1.3" fill="none"/>
<text x="39.60" y="132.30" font-size="7" text-anchor="end" textLength="34.2" lengthAdjust="spacingAndGlyphs"  class="r">α-hFcγRI.1</text>
<rect x="53.40" y="129.40" width="2" height="1" fill="#333"/>
<rect x="79.00" y="129.40" width="2" height="1" fill="#333"/>
<path d="M104.20 128.60 H107.60 M105.90 126.90 V130.30" stroke="#111" stroke-width="1.3" fill="none"/>
<rect x="131.00" y="129.40" width="2" height="1" fill="#333"/>
<path d="M156.10 128.60 H159.50 M157.80 126.90 V130.30" stroke="#111" stroke-width="1.3" fill="none"/>
<text x="39.60" y="146.90" font-size="7" text-anchor="end" textLength="29.6" lengthAdjust="spacingAndGlyphs"  class="r">α-FcγRIV</text>
<rect x="53.40" y="143.80" width="2" height="1" fill="#333"/>
<rect x="79.00" y="143.80" width="2" height="1" fill="#333"/>
<rect x="104.90" y="143.80" width="2" height="1" fill="#333"/>
<path d="M130.30 143.20 H133.70 M132.00 141.50 V144.90" stroke="#111" stroke-width="1.3" fill="none"/>
<path d="M156.10 143.20 H159.50 M157.80 141.50 V144.90" stroke="#111" stroke-width="1.3" fill="none"/>
</svg>
</body></html>
